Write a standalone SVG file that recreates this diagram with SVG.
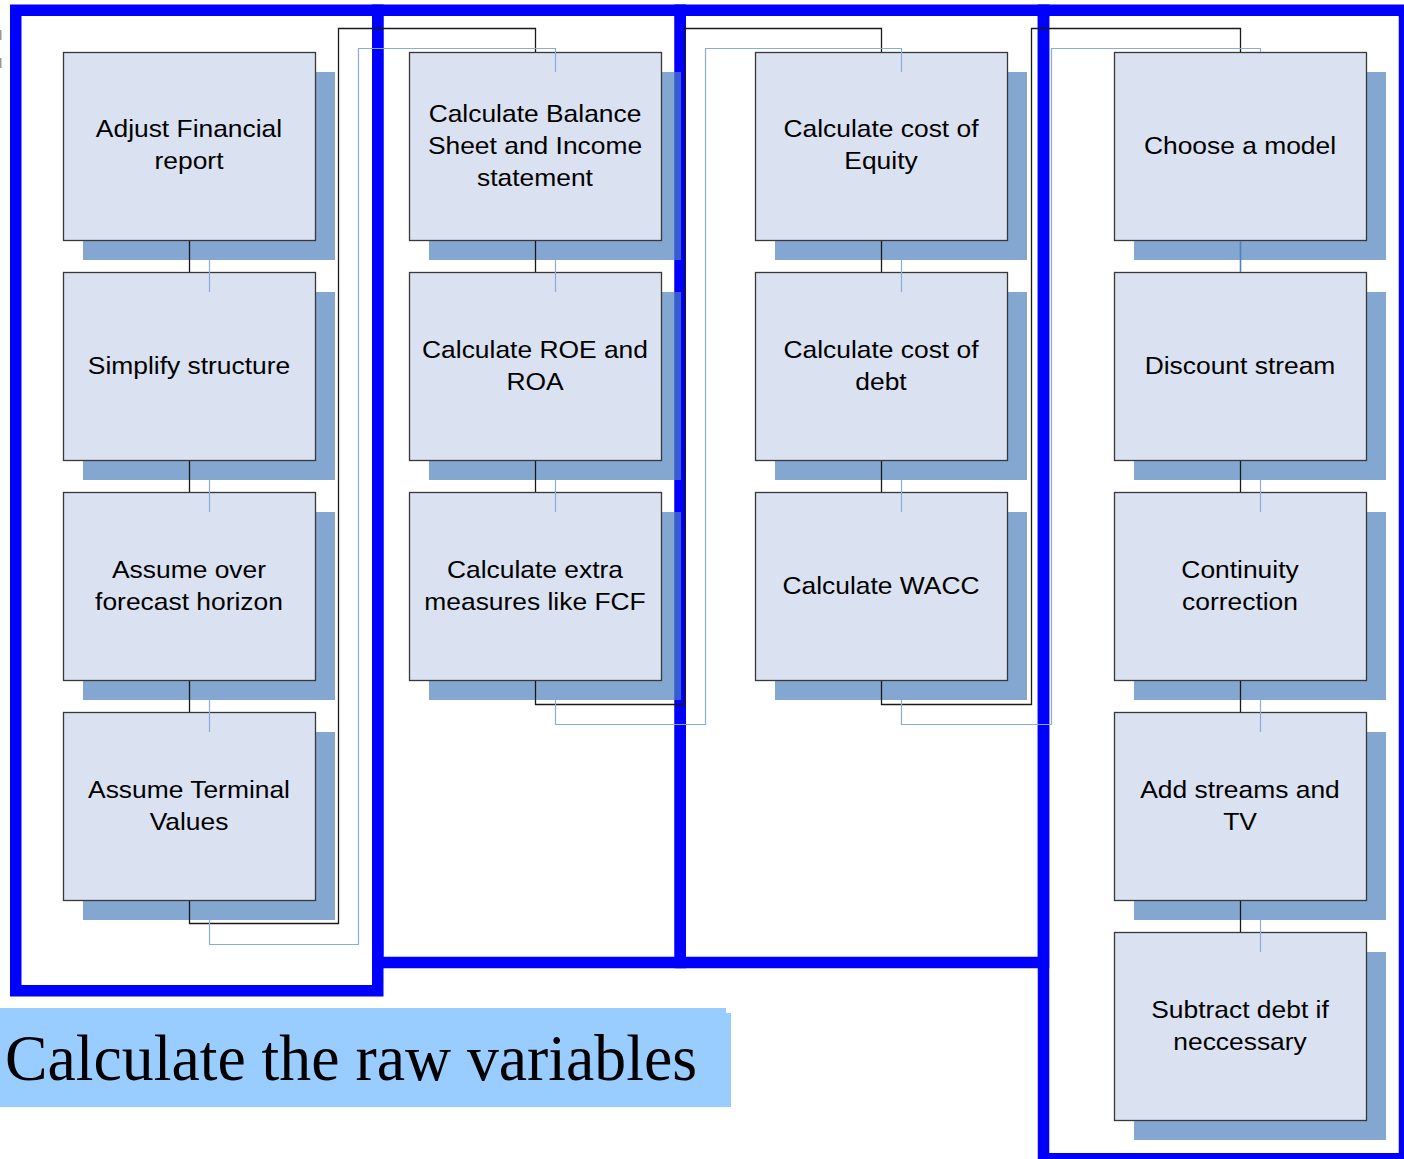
<svg xmlns="http://www.w3.org/2000/svg" width="1404" height="1159" viewBox="0 0 1404 1159">
<defs>
<style>
.frame{fill:none;stroke:#0000FF;stroke-width:11.5}
.shadow{fill:#4F81BD;fill-opacity:0.7}
.box{fill:#DAE1F1;stroke:#383838;stroke-width:1.3}
.lbl{font-family:"Liberation Sans",Arial,sans-serif;font-size:24px;fill:#000;text-anchor:middle}
.blk{fill:none;stroke:#1a1a1a;stroke-width:1.3}
.lb{fill:none;stroke:#8EAADB;stroke-width:1.2}
.cap{font-family:"Liberation Serif","Times New Roman",serif;font-size:66px;fill:#000}
</style>
</defs>
<rect width="1404" height="1159" fill="#FFFFFF"/>
<g id="marks" fill="#999999">
<rect x="0" y="30" width="1.5" height="10"/>
<rect x="0" y="58" width="1.5" height="10"/>
</g>
<g id="frames">
<rect class="frame" x="15.75" y="10.25" width="362" height="980.5"/>
<rect class="frame" x="377.75" y="10.25" width="302.5" height="952.25"/>
<rect class="frame" x="680.25" y="10.25" width="363.25" height="952.25"/>
<rect class="frame" x="1043.5" y="10.25" width="361" height="1148.5"/>
</g>
<g id="shadows">
<rect class="shadow" x="83" y="72" width="252" height="188"/>
<rect class="shadow" x="83" y="292" width="252" height="188"/>
<rect class="shadow" x="83" y="512" width="252" height="188"/>
<rect class="shadow" x="83" y="732" width="252" height="188"/>
<rect class="shadow" x="429" y="72" width="252" height="188"/>
<rect class="shadow" x="429" y="292" width="252" height="188"/>
<rect class="shadow" x="429" y="512" width="252" height="188"/>
<rect class="shadow" x="775" y="72" width="252" height="188"/>
<rect class="shadow" x="775" y="292" width="252" height="188"/>
<rect class="shadow" x="775" y="512" width="252" height="188"/>
<rect class="shadow" x="1134" y="72" width="252" height="188"/>
<rect class="shadow" x="1134" y="292" width="252" height="188"/>
<rect class="shadow" x="1134" y="512" width="252" height="188"/>
<rect class="shadow" x="1134" y="732" width="252" height="188"/>
<rect class="shadow" x="1134" y="952" width="252" height="188"/>
</g>
<g id="n-adjust"><rect class="box" x="63.5" y="52.5" width="252" height="188"/>
<text class="lbl" transform="translate(189,0) scale(1.1,1)"><tspan x="0" y="137.5">Adjust Financial</tspan><tspan x="0" y="169.5">report</tspan></text></g>
<g id="n-simplify"><rect class="box" x="63.5" y="272.5" width="252" height="188"/>
<text class="lbl" transform="translate(189,0) scale(1.1,1)"><tspan x="0" y="374.5">Simplify structure</tspan></text></g>
<g id="n-assume-over"><rect class="box" x="63.5" y="492.5" width="252" height="188"/>
<text class="lbl" transform="translate(189,0) scale(1.1,1)"><tspan x="0" y="578.5">Assume over</tspan><tspan x="0" y="610.5">forecast horizon</tspan></text></g>
<g id="n-terminal"><rect class="box" x="63.5" y="712.5" width="252" height="188"/>
<text class="lbl" transform="translate(189,0) scale(1.1,1)"><tspan x="0" y="798.5">Assume Terminal</tspan><tspan x="0" y="830.5">Values</tspan></text></g>
<g id="n-balance"><rect class="box" x="409.5" y="52.5" width="252" height="188"/>
<text class="lbl" transform="translate(535,0) scale(1.1,1)"><tspan x="0" y="122">Calculate Balance</tspan><tspan x="0" y="154">Sheet and Income</tspan><tspan x="0" y="186">statement</tspan></text></g>
<g id="n-roe"><rect class="box" x="409.5" y="272.5" width="252" height="188"/>
<text class="lbl" transform="translate(535,0) scale(1.1,1)"><tspan x="0" y="358.5">Calculate ROE and</tspan><tspan x="0" y="390.5">ROA</tspan></text></g>
<g id="n-extra"><rect class="box" x="409.5" y="492.5" width="252" height="188"/>
<text class="lbl" transform="translate(535,0) scale(1.1,1)"><tspan x="0" y="578.5">Calculate extra</tspan><tspan x="0" y="610.5">measures like FCF</tspan></text></g>
<g id="n-equity"><rect class="box" x="755.5" y="52.5" width="252" height="188"/>
<text class="lbl" transform="translate(881,0) scale(1.1,1)"><tspan x="0" y="137.5">Calculate cost of</tspan><tspan x="0" y="169.5">Equity</tspan></text></g>
<g id="n-debt"><rect class="box" x="755.5" y="272.5" width="252" height="188"/>
<text class="lbl" transform="translate(881,0) scale(1.1,1)"><tspan x="0" y="358.5">Calculate cost of</tspan><tspan x="0" y="390.5">debt</tspan></text></g>
<g id="n-wacc"><rect class="box" x="755.5" y="492.5" width="252" height="188"/>
<text class="lbl" transform="translate(881,0) scale(1.1,1)"><tspan x="0" y="594.5">Calculate WACC</tspan></text></g>
<g id="n-model"><rect class="box" x="1114.5" y="52.5" width="252" height="188"/>
<text class="lbl" transform="translate(1240,0) scale(1.1,1)"><tspan x="0" y="154.5">Choose a model</tspan></text></g>
<g id="n-discount"><rect class="box" x="1114.5" y="272.5" width="252" height="188"/>
<text class="lbl" transform="translate(1240,0) scale(1.1,1)"><tspan x="0" y="374.5">Discount stream</tspan></text></g>
<g id="n-continuity"><rect class="box" x="1114.5" y="492.5" width="252" height="188"/>
<text class="lbl" transform="translate(1240,0) scale(1.1,1)"><tspan x="0" y="578.5">Continuity</tspan><tspan x="0" y="610.5">correction</tspan></text></g>
<g id="n-add"><rect class="box" x="1114.5" y="712.5" width="252" height="188"/>
<text class="lbl" transform="translate(1240,0) scale(1.1,1)"><tspan x="0" y="798.5">Add streams and</tspan><tspan x="0" y="830.5">TV</tspan></text></g>
<g id="n-subtract"><rect class="box" x="1114.5" y="932.5" width="252" height="188"/>
<text class="lbl" transform="translate(1240,0) scale(1.1,1)"><tspan x="0" y="1018.5">Subtract debt if</tspan><tspan x="0" y="1050.5">neccessary</tspan></text></g>
<g id="connectors">
<path class="blk" d="M189.5 241V272M189.5 461V492M189.5 681V712M189.5 901V923.5H338.5V28.5H535.5V52"/>
<path class="blk" d="M535.5 241V272M535.5 461V492M535.5 681V704.5H684.5V28.5H881.5V52"/>
<path class="blk" d="M881.5 241V272M881.5 461V492M881.5 681V704.5H1031.5V28.5H1240.5V52"/>
<path class="blk" d="M1240.5 461V492M1240.5 681V712M1240.5 901V932"/>
<path d="M1240.5 241V272" fill="none" stroke="#4F81BD" stroke-width="1.6"/>
<path class="lb" d="M209.5 260V292M209.5 480V512M209.5 700V732M209.5 920V944.5H358.5V48.5H555.5V72"/>
<path class="lb" d="M555.5 260V292M555.5 480V512M555.5 700V724.5H705.5V48.5H901.5V72"/>
<path class="lb" d="M901.5 260V292M901.5 480V512M901.5 700V724.5H1051.5V48.5H1260.5V52"/>
<path class="lb" d="M1260.5 480V512M1260.5 700V732M1260.5 920V952"/>
</g>
<g id="caption">
<rect x="0" y="1008" width="726" height="99" fill="#99CCFF"/>
<rect x="5" y="1013" width="726" height="94" fill="#99CCFF"/>
<text class="cap" x="5" y="1080" textLength="692" lengthAdjust="spacingAndGlyphs">Calculate the raw variables</text>
</g>
</svg>
